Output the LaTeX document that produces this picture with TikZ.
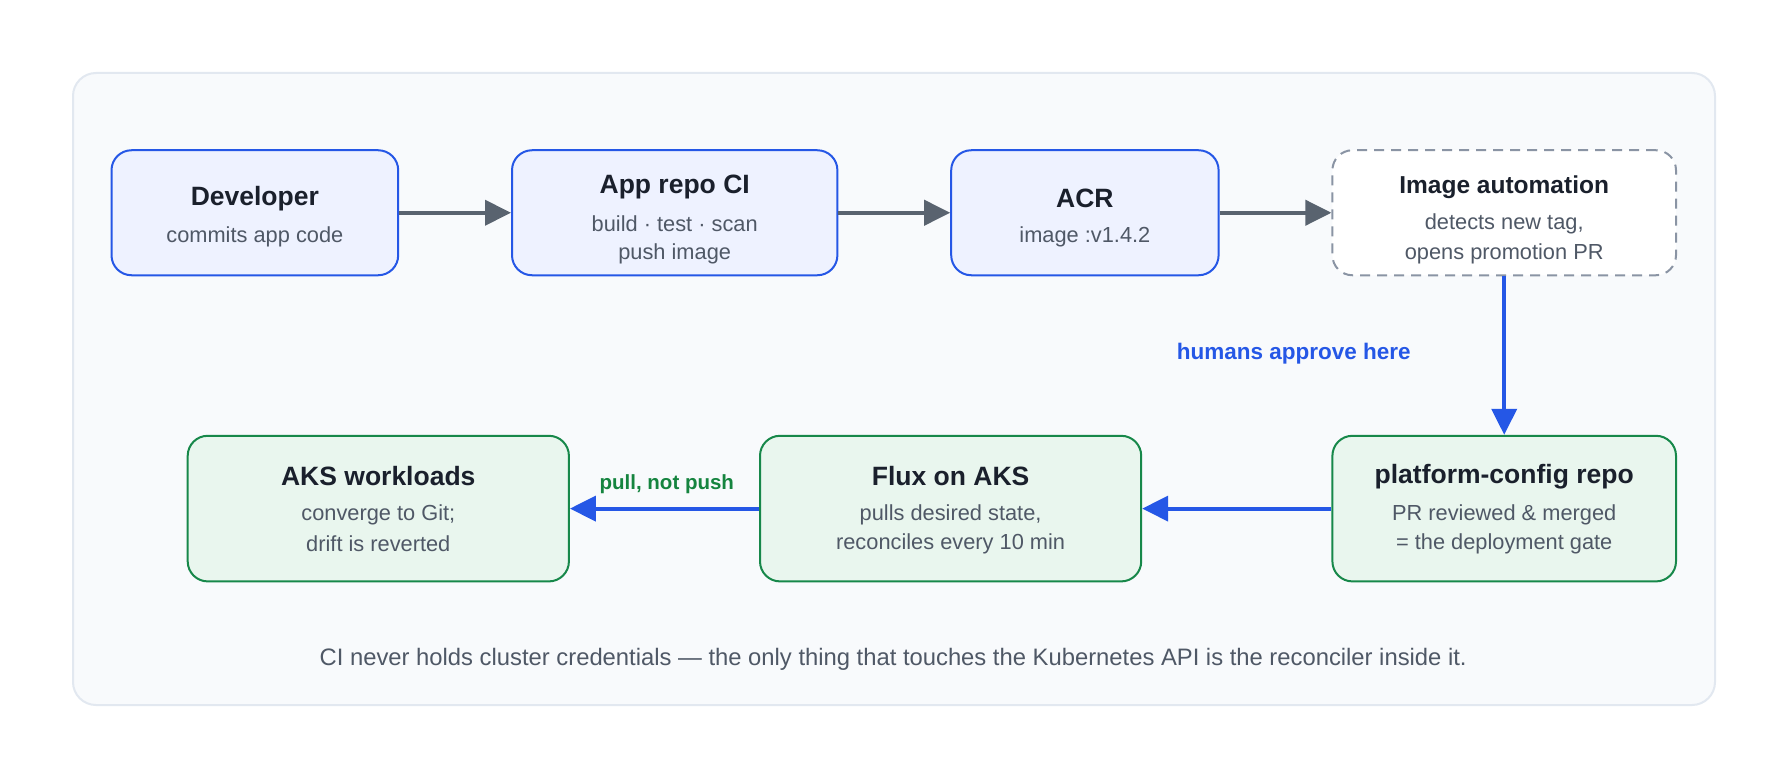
\documentclass[tikz,border=0pt]{standalone}
\usepackage{fontspec}
\setmainfont{Liberation Sans}
\usetikzlibrary{arrows.meta}
\definecolor{panelfill}{HTML}{F8FAFC}
\definecolor{paneldraw}{HTML}{E2E8F0}
\definecolor{bluefill}{HTML}{EEF2FF}
\definecolor{bluedraw}{HTML}{2557E6}
\definecolor{greenfill}{HTML}{E9F6EE}
\definecolor{greendraw}{HTML}{17884A}
\definecolor{arrowgray}{HTML}{59636F}
\definecolor{dashgray}{HTML}{8A94A4}
\definecolor{titlecol}{HTML}{1A202C}
\definecolor{subcol}{HTML}{4F5866}
\definecolor{labelgreen}{HTML}{15843F}
\tikzset{
  boxbase/.style={rectangle, rounded corners=20pt, line width=2pt, inner sep=0pt},
  bluebox/.style={boxbase, draw=bluedraw, fill=bluefill},
  greenbox/.style={boxbase, draw=greendraw, fill=greenfill},
  dashbox/.style={boxbase, draw=dashgray, fill=white, dash pattern=on 10pt off 7pt},
  ttl/.style={font=\fontsize{26.5}{30}\selectfont\bfseries, text=titlecol, inner sep=0pt},
  ttlsmall/.style={font=\fontsize{24.5}{28}\selectfont\bfseries, text=titlecol, inner sep=0pt},
  sub/.style={font=\fontsize{21.8}{26}\selectfont, text=subcol, inner sep=0pt},
  capt/.style={font=\fontsize{23.8}{28}\selectfont, text=subcol, inner sep=0pt},
  grayarrow/.style={draw=arrowgray, line width=4pt, -{Triangle[length=26pt,width=25pt]}},
  bluearrow/.style={draw=bluedraw, line width=4pt, -{Triangle[length=26pt,width=25pt]}},
}
\begin{document}
\begin{tikzpicture}[x=1pt,y=-1pt]
\useasboundingbox (0,0) rectangle (1784,778);
\fill[white] (0,0) rectangle (1784,778);
\draw[fill=panelfill, draw=paneldraw, line width=2pt, rounded corners=23pt] (73,73) rectangle (1715,705);

% top row
\node[bluebox, minimum width=286.7pt, minimum height=125pt] (dev) at (254.85,212.75) {};
\node[bluebox, minimum width=325.4pt, minimum height=125pt] (app) at (674.7,212.75) {};
\node[bluebox, minimum width=267.4pt, minimum height=125pt] (acr) at (1084.9,212.75) {};
\node[dashbox, minimum width=343.6pt, minimum height=125pt] (auto) at (1504.2,212.75) {};

% bottom row
\node[greenbox, minimum width=343.6pt, minimum height=145.6pt] (plat) at (1504.2,508.6) {};
\node[greenbox, minimum width=381.2pt, minimum height=145.6pt] (flux) at (950.6,508.6) {};
\node[greenbox, minimum width=381.2pt, minimum height=145.6pt] (aks) at (378.3,508.6) {};

% texts
\node[ttl] (devT) at (254.85,198.5) {Developer};
\node[sub] (devS) at (254.85,237) {commits app code};

\node[ttl] (appT) at (674.7,186.5) {App repo CI};
\node[sub] (appS1) at (674.7,223.5) {build · test · scan};
\node[sub] (appS2) at (674.7,253.5) {push image};

\node[ttl] (acrT) at (1084.9,198.5) {ACR};
\node[sub] (acrS) at (1084.9,237) {image :v1.4.2};

\node[ttlsmall] (autoT) at (1504.2,187.5) {Image automation};
\node[sub] (autoS1) at (1504.2,223.5) {detects new tag,};
\node[sub] (autoS2) at (1504.2,253.5) {opens promotion PR};

\node[ttl] (platT) at (1504.2,476.5) {platform-config repo};
\node[sub] (platS1) at (1504.2,515) {PR reviewed \& merged};
\node[sub] (platS2) at (1504.2,543.5) {= the deployment gate};

\node[ttl] (fluxT) at (950.6,476.5) {Flux on AKS};
\node[sub] (fluxS1) at (950.6,515) {pulls desired state,};
\node[sub] (fluxS2) at (950.6,543.5) {reconciles every 10 min};

\node[ttl] (aksT) at (378.3,476.5) {AKS workloads};
\node[sub] (aksS1) at (378.3,515) {converge to Git;};
\node[sub] (aksS2) at (378.3,543.5) {drift is reverted};

% connectors
\draw[grayarrow] (dev.east) -- (app.west);
\draw[grayarrow] (app.east) -- (acr.west);
\draw[grayarrow] (acr.east) -- (auto.west);
\draw[bluearrow] (auto.south) -- (plat.north);
\draw[bluearrow] (plat.west) -- (flux.east);
\draw[bluearrow] (flux.west) -- (aks.east);

% labels
\node[font=\fontsize{22.5}{26}\selectfont\bfseries, text=bluedraw, inner sep=0pt] (humans) at (1293.7,353.5) {humans approve here};
\node[font=\fontsize{20.5}{24}\selectfont\bfseries, text=labelgreen, inner sep=0pt] (pull) at (666.8,484.5) {pull, not push};

\node[capt] (caption) at (893.2,659) {CI never holds cluster credentials — the only thing that touches the Kubernetes API is the reconciler inside it.};
\end{tikzpicture}
\end{document}
